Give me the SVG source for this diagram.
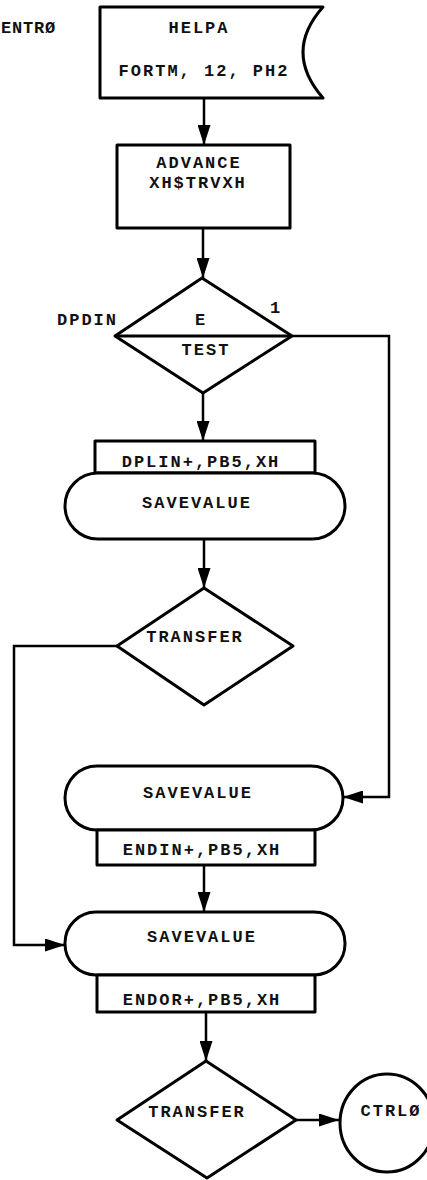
<svg xmlns="http://www.w3.org/2000/svg" width="427" height="1180" viewBox="0 0 427 1180">
<style>
.s{fill:#fff;stroke:#000;stroke-width:3;stroke-linejoin:round}
.c{fill:none;stroke:#000;stroke-width:2.5}
text{font-family:"Liberation Mono","Courier New",monospace;font-size:17px;font-weight:bold;letter-spacing:2px;fill:#111}
.m{text-anchor:middle}
</style>
<defs>
<marker id="a" markerUnits="userSpaceOnUse" markerWidth="20" markerHeight="13" refX="20" refY="6.5" orient="auto">
<path d="M0,0 L20,6.5 L0,13 Z" fill="#000"/>
</marker>
</defs>
<rect width="427" height="1180" fill="#fff"/>
<g id="connectors">
<path class="c" d="M204,98 V145" marker-end="url(#a)"/>
<path class="c" d="M203,228 V278" marker-end="url(#a)"/>
<path class="c" d="M203,393 V441" marker-end="url(#a)"/>
<path class="c" d="M292,336 H389 V797 H343" marker-end="url(#a)"/>
<path class="c" d="M204,539 V588" marker-end="url(#a)"/>
<path class="c" d="M117,646 H14 V945 H65" marker-end="url(#a)"/>
<path class="c" d="M204,865 V912" marker-end="url(#a)"/>
<path class="c" d="M206,1012 V1061" marker-end="url(#a)"/>
<path class="c" d="M296,1120 H339" marker-end="url(#a)"/>
</g>
<g id="entry">
<text x="1" y="33" style="letter-spacing:0.8px">ENTRØ</text>
</g>
<g id="helpa">
<path class="s" d="M100,7 H323 Q283,52 323,98 H100 Z"/>
<text class="m" x="199" y="33">HELPA</text>
<text class="m" x="204" y="76">FORTM, 12, PH2</text>
</g>
<g id="advance">
<rect class="s" x="117" y="145" width="173" height="83"/>
<text class="m" x="199" y="168">ADVANCE</text>
<text class="m" x="198" y="188">XH$TRVXH</text>
</g>
<g id="test">
<path class="s" d="M202,278 L292,336 L203,393 L115,336 Z"/>
<line x1="115" y1="336" x2="292" y2="336" stroke="#000" stroke-width="3"/>
<text class="m" x="201" y="325">E</text>
<text class="m" x="206" y="355">TEST</text>
<text x="57" y="325">DPDIN</text>
<text x="270" y="313">1</text>
</g>
<g id="savevalue1">
<rect class="s" x="95" y="441" width="220" height="32"/>
<text class="m" x="201" y="467">DPLIN+,PB5,XH</text>
<rect class="s" x="65" y="473" width="280" height="66" rx="33" ry="33"/>
<text class="m" x="197" y="508">SAVEVALUE</text>
</g>
<g id="transfer1">
<path class="s" d="M204,588 L293,646 L204,705 L117,646 Z"/>
<text class="m" x="195" y="642">TRANSFER</text>
</g>
<g id="savevalue2">
<rect class="s" x="65" y="766" width="278" height="64" rx="32" ry="32"/>
<text class="m" x="198" y="798">SAVEVALUE</text>
<rect class="s" x="97" y="830" width="218" height="35"/>
<text class="m" x="202" y="855">ENDIN+,PB5,XH</text>
</g>
<g id="savevalue3">
<rect class="s" x="65" y="912" width="280" height="63" rx="31" ry="31"/>
<text class="m" x="202" y="942">SAVEVALUE</text>
<rect class="s" x="97" y="975" width="218" height="37"/>
<text class="m" x="202" y="1005">ENDOR+,PB5,XH</text>
</g>
<g id="transfer2">
<path class="s" d="M206,1061 L296,1120 L207,1178 L117,1120 Z"/>
<text class="m" x="197" y="1117">TRANSFER</text>
</g>
<g id="ctrlo">
<ellipse class="s" cx="387" cy="1123" rx="47" ry="49"/>
<text class="m" x="391" y="1116">CTRLØ</text>
</g>
</svg>
